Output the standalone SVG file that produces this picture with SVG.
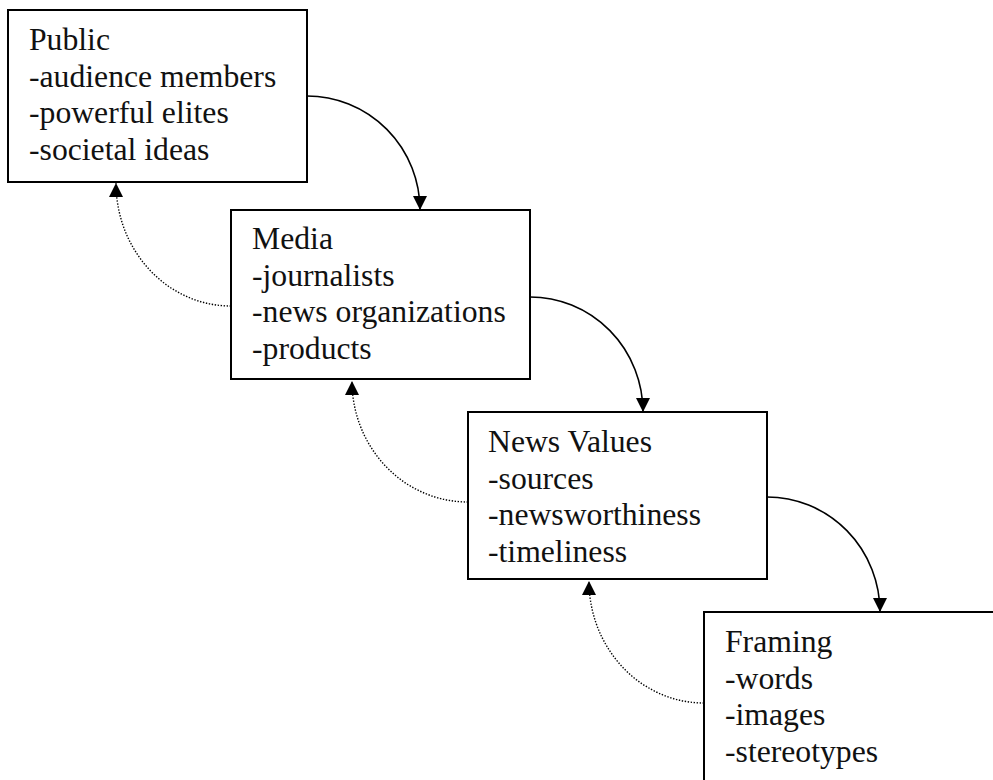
<svg xmlns="http://www.w3.org/2000/svg" width="993" height="780" viewBox="0 0 993 780">
<style>
.box{fill:#fff;stroke:#000;stroke-width:2}
.t{font-family:"Liberation Serif","Times New Roman",serif;font-size:31.7px;fill:#111}
.solid{fill:none;stroke:#000;stroke-width:1.6}
.dot{fill:none;stroke:#000;stroke-width:1.4;stroke-dasharray:1.4 1.6}
</style>
<defs>
<marker id="ah" markerUnits="userSpaceOnUse" markerWidth="15" markerHeight="15" refX="14" refY="7.5" orient="auto" viewBox="0 0 15 15">
<path d="M0,0.5 L14,7.5 L0,14.5 z" fill="#000" stroke="none"/>
</marker>
</defs>
<rect width="993" height="780" fill="#fff"/>
<g id="public">
<rect class="box" x="8" y="10" width="299" height="172"/>
<text class="t" x="29" y="50">Public</text>
<text class="t" x="29" y="86.7">-audience members</text>
<text class="t" x="29" y="123.4">-powerful elites</text>
<text class="t" x="29" y="160.1">-societal ideas</text>
</g>
<g id="media">
<rect class="box" x="231" y="210" width="299" height="169"/>
<text class="t" x="252" y="249">Media</text>
<text class="t" x="252" y="285.7">-journalists</text>
<text class="t" x="252" y="322.4">-news organizations</text>
<text class="t" x="252" y="359.1">-products</text>
</g>
<g id="newsvalues">
<rect class="box" x="468" y="412" width="299" height="167"/>
<text class="t" x="488" y="452">News Values</text>
<text class="t" x="488" y="488.7">-sources</text>
<text class="t" x="488" y="525.4">-newsworthiness</text>
<text class="t" x="488" y="562.1">-timeliness</text>
</g>
<g id="framing">
<rect class="box" x="704" y="612" width="300" height="180"/>
<text class="t" x="725" y="652">Framing</text>
<text class="t" x="725" y="688.7">-words</text>
<text class="t" x="725" y="725.4">-images</text>
<text class="t" x="725" y="762.1">-stereotypes</text>
</g>
<g id="connectors">
<path class="solid" d="M307,96 A113,114 0 0 1 420,210" marker-end="url(#ah)"/>
<path class="solid" d="M530,297 A113,115 0 0 1 643,412" marker-end="url(#ah)"/>
<path class="solid" d="M767,497 A113,115 0 0 1 880,612" marker-end="url(#ah)"/>
<path class="dot" d="M231,306 A115,123 0 0 1 116,183" marker-end="url(#ah)"/>
<path class="dot" d="M468,502 A116,121 0 0 1 352,381" marker-end="url(#ah)"/>
<path class="dot" d="M704,703 A115,122 0 0 1 589,581" marker-end="url(#ah)"/>
</g>
</svg>
